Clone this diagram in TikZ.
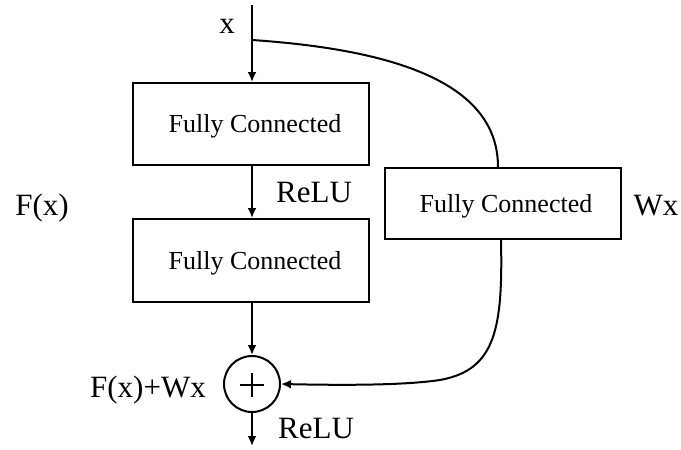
\documentclass[tikz,border=0pt]{standalone}
\usepackage{fontspec}
\setmainfont{Liberation Serif}
\usetikzlibrary{arrows.meta}
\begin{document}
\begin{tikzpicture}[x=1pt,y=-1pt,
  ln/.style={line width=2pt},
  arr/.style={ln,-{Latex[length=10pt,width=9pt]}},
  fcbox/.style={draw,line width=2pt,minimum width=236pt,inner sep=0pt},
  lbl/.style={anchor=base,inner sep=0pt,font=\fontsize{31}{34}\selectfont},
  fctxt/.style={anchor=base,inner sep=0pt,font=\fontsize{26}{28}\selectfont}]
\useasboundingbox (0,0) rectangle (681,450);
\coordinate (top) at (252,5);
\coordinate (br) at (252,40);
\coordinate (out) at (252,446);
\node[fcbox,minimum height=82pt] (fc1) at (251,124) {};
\node[fcbox,minimum height=83pt] (fc2) at (251,260.5) {};
\node[fcbox,minimum height=71pt] (fc3) at (503,203.5) {};
\node[fctxt] (t1) at (255,132) {Fully Connected};
\node[fctxt] (t2) at (255,269) {Fully Connected};
\node[fctxt] (t3) at (506,212) {Fully Connected};
\node[draw,circle,line width=2pt,minimum size=56pt,inner sep=0pt] (sum) at (252,384) {};
\draw[line width=2.8pt] (240,385) -- (264,385) (252,373) -- (252,397);
\node[lbl] (lx) at (227,33) {x};
\node[lbl] (relu1) at (314,202) {ReLU};
\node[lbl] (fx) at (42,215) {F(x)};
\node[lbl] (wx) at (656,215) {Wx};
\node[lbl] (fxwx) at (148,397) {F(x)+Wx};
\node[lbl] (relu2) at (316,438) {ReLU};
\draw[arr] (top) -- (fc1.north -| top);
\draw[arr] (fc1.south -| top) -- (fc2.north -| top);
\draw[arr] (fc2.south -| top) -- (sum.north);
\draw[arr] (sum.south) -- (out);
\draw[ln] (br) .. controls (400,50) and (498,85) .. ([xshift=-5pt]fc3.north);
\draw[arr] ([xshift=-2pt]fc3.south) .. controls (503,330) and (495,370) .. (440,380)
  .. controls (400,386) and (330,385) .. (sum.east);
\end{tikzpicture}
\end{document}
